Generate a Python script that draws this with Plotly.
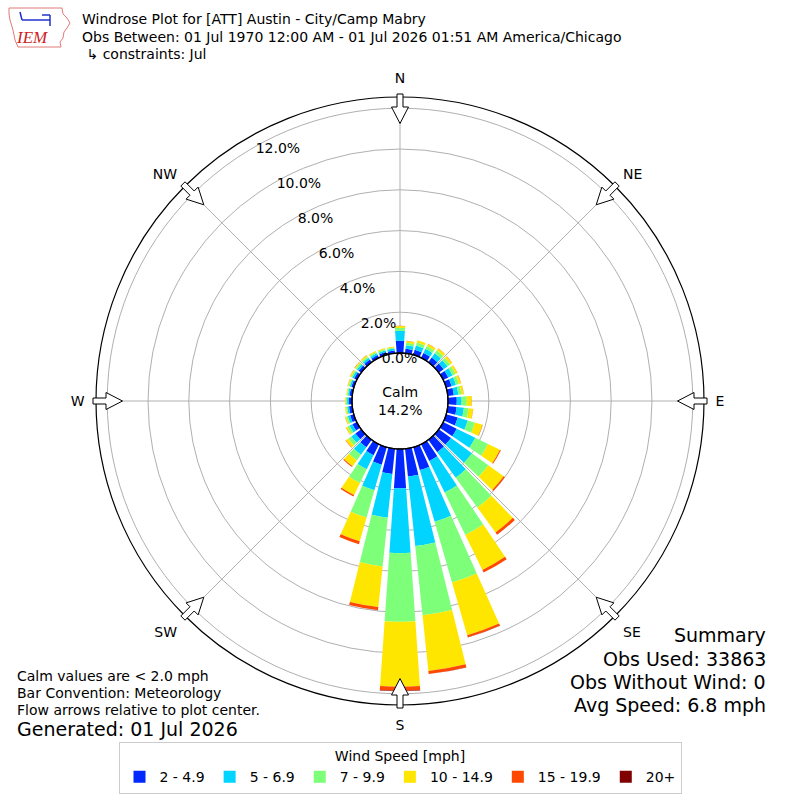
import math
import plotly.graph_objects as go

# %% Data (percent of observations, by direction the wind blows from)
directions = list(range(0, 360, 10))

speed_bins = ["2 - 4.9", "5 - 6.9", "7 - 9.9", "10 - 14.9", "15 - 19.9", "20+"]
bin_colors = ["#0028ff", "#00d4ff", "#7dff7a", "#ffe600", "#ff4800", "#800000"]

pct_2_5 = [0.60, 0.22, 0.26, 0.27, 0.29, 0.29, 0.28, 0.28, 0.30, 0.43, 0.44, 0.59,
           0.74, 0.74, 0.75, 0.92, 1.17, 1.37, 1.93, 1.25, 0.90, 0.60, 0.45, 0.35,
           0.24, 0.19, 0.16, 0.15, 0.13, 0.13, 0.15, 0.16, 0.16, 0.15, 0.14, 0.14]
pct_5_7 = [0.49, 0.18, 0.22, 0.22, 0.25, 0.24, 0.23, 0.22, 0.22, 0.24, 0.36, 0.51,
           1.01, 1.26, 1.55, 1.72, 2.63, 3.43, 3.18, 2.15, 1.30, 0.77, 0.45, 0.25,
           0.16, 0.12, 0.09, 0.09, 0.08, 0.08, 0.10, 0.10, 0.11, 0.10, 0.09, 0.09]
pct_7_10 = [0.14, 0.12, 0.15, 0.15, 0.17, 0.16, 0.16, 0.15, 0.15, 0.25, 0.23, 0.37,
            0.70, 1.00, 1.80, 2.31, 3.10, 3.41, 3.36, 2.40, 1.39, 0.75, 0.35, 0.18,
            0.12, 0.08, 0.06, 0.06, 0.05, 0.06, 0.07, 0.08, 0.08, 0.07, 0.07, 0.06]
pct_10_15 = [0.09, 0.09, 0.11, 0.12, 0.12, 0.12, 0.11, 0.11, 0.11, 0.24, 0.22, 0.38,
             0.65, 0.93, 1.51, 1.91, 2.69, 2.74, 3.18, 2.00, 1.21, 0.66, 0.35, 0.15,
             0.08, 0.06, 0.05, 0.04, 0.04, 0.05, 0.06, 0.06, 0.07, 0.06, 0.05, 0.04]
pct_15_20 = [0.01, 0.01, 0.01, 0.01, 0.01, 0.01, 0.01, 0.01, 0.01, 0.01, 0.01, 0.02,
             0.05, 0.07, 0.14, 0.14, 0.11, 0.15, 0.20, 0.15, 0.15, 0.07, 0.05, 0.02,
             0.01, 0.01, 0.00, 0.00, 0.00, 0.01, 0.01, 0.01, 0.01, 0.00, 0.00, 0.00]
pct_20_up = [0, 0, 0, 0, 0, 0, 0, 0, 0, 0, 0, 0,
             0, 0, 0, 0, 0.01, 0.01, 0.02, 0.01, 0, 0, 0, 0,
             0, 0, 0, 0, 0, 0, 0, 0, 0, 0, 0, 0]

calm_pct = 14.2
ring_ticks = [0, 2, 4, 6, 8, 10, 12]
compass_vals = [0, 45, 90, 135, 180, 225, 270, 315]
compass_text = ["N", "NE", "E", "SE", "S", "SW", "W", "NW"]

# %% Geometry (pixels on the 800x800 page)
W = H = 800
CX, CY = 400, 401
R_OUT = 304
R_HOLE = 48
R_MAX = 12.55
RLABEL_ANGLE = 121
FONT = "DejaVu Sans"


def px(x):
    return x / W


def py(y):
    return 1 - y / H


fig = go.Figure()
for name, vals, color in zip(speed_bins,
                             [pct_2_5, pct_5_7, pct_7_10, pct_10_15, pct_15_20, pct_20_up],
                             bin_colors):
    fig.add_trace(go.Barpolar(
        r=vals, theta=directions, width=8, name=name,
        marker=dict(color=color, line=dict(width=0)),
    ))

# flow arrows on the compass directions, pointing at the center
shapes = []
arrow = [(277.5, 0), (294, 8.5), (294, 3), (307, 3), (307, -3), (294, -3), (294, -8.5)]
for th in compass_vals:
    t = math.radians(th)
    ux, uy = math.sin(t), -math.cos(t)
    vx, vy = math.cos(t), math.sin(t)
    pts = [(CX + u * ux + v * vx, CY + u * uy + v * vy) for u, v in arrow]
    path = "M" + "L".join(f"{px(x):.5f},{py(y):.5f}" for x, y in pts) + "Z"
    shapes.append(dict(type="path", xref="paper", yref="paper", path=path,
                       fillcolor="white", line=dict(color="black", width=1), layer="above"))

# calm circle outline
shapes.append(dict(type="circle", xref="paper", yref="paper",
                   x0=px(CX - R_HOLE), x1=px(CX + R_HOLE), y0=py(CY + R_HOLE), y1=py(CY - R_HOLE),
                   line=dict(color="black", width=1.3), layer="above"))

# rough IEM logo
iowa = [(9, 8), (62, 8), (63, 14), (67, 18), (70, 23), (67, 28), (64, 32), (63, 38), (60, 42),
        (61, 47), (18, 47), (15, 40), (13, 30), (10, 20), (9, 14)]
shapes.append(dict(type="path", xref="paper", yref="paper",
                   path="M" + "L".join(f"{px(x):.5f},{py(y):.5f}" for x, y in iowa) + "Z",
                   line=dict(color="#e07a7a", width=1)))
for x0, y0, x1, y1 in [(22, 20, 50, 20), (42, 15, 50, 15), (50, 15, 50, 26), (20, 12, 22, 20)]:
    shapes.append(dict(type="line", xref="paper", yref="paper",
                       x0=px(x0), y0=py(y0), x1=px(x1), y1=py(y1),
                       line=dict(color="#2233cc", width=1.5)))

annotations = []


def text(s, x, y, size=14, anchor="left", **kw):
    annotations.append(dict(text=s, x=px(x), y=py(y), xref="paper", yref="paper",
                            xanchor=anchor, yanchor="middle", showarrow=False,
                            font=dict(family=kw.get("family", FONT), size=size,
                                      color=kw.get("color", "black"))))


text("<i>IEM</i>", 14, 38, size=17, family="Liberation Serif", color="#cc2222")
text("Windrose Plot for [ATT] Austin - City/Camp Mabry", 80, 19)
text("Obs Between: 01 Jul 1970 12:00 AM - 01 Jul 2026 01:51 AM America/Chicago", 80, 37)
text(" ↳ constraints: Jul", 80, 54)
text("Calm values are &lt; 2.0 mph", 15, 676)
text("Bar Convention: Meteorology", 15, 693)
text("Flow arrows relative to plot center.", 15, 710)
text("Generated: 01 Jul 2026", 15, 729, size=19)
text("Summary", 768, 635, size=19, anchor="right")
text("Obs Used: 33863", 768, 659, size=19, anchor="right")
text("Obs Without Wind: 0", 768, 682, size=19, anchor="right")
text("Avg Speed: 6.8 mph", 768, 705, size=19, anchor="right")
annotations.append(dict(text=f"Calm<br>{calm_pct:.1f}%", x=px(CX), y=py(CY), xref="paper",
                        yref="paper", showarrow=False, font=dict(family=FONT, size=14)))

fig.update_layout(
    width=W, height=H,
    margin=dict(l=0, r=0, t=0, b=0),
    paper_bgcolor="white",
    font=dict(family=FONT, size=14, color="black"),
    polar=dict(
        domain=dict(x=[px(CX - R_OUT), px(CX + R_OUT)], y=[py(CY + R_OUT), py(CY - R_OUT)]),
        hole=R_HOLE / R_OUT,
        bgcolor="white",
        barmode="stack",
        radialaxis=dict(range=[0, R_MAX], tickvals=ring_ticks,
                        ticktext=[f"{v:.1f}%" for v in ring_ticks],
                        angle=RLABEL_ANGLE, tickangle=RLABEL_ANGLE, side="clockwise",
                        showline=False, ticks="", gridcolor="#b0b0b0",
                        gridwidth=1, tickfont=dict(size=14), layer="above traces"),
        angularaxis=dict(rotation=90, direction="clockwise", tickmode="array",
                         tickvals=compass_vals, ticktext=compass_text,
                         showline=True, linecolor="black", linewidth=1.2,
                         gridcolor="#b0b0b0", ticks="outside", ticklen=8,
                         tickcolor="rgba(0,0,0,0)", tickfont=dict(size=14)),
    ),
    legend=dict(orientation="h", x=0.5, xanchor="center", y=py(742), yanchor="top",
                title=dict(text="Wind Speed [mph]", side="top center", font=dict(size=14)),
                bordercolor="#cccccc", borderwidth=1, font=dict(size=14),
                itemwidth=30, traceorder="normal"),
    shapes=shapes,
    annotations=annotations,
)

fig.write_html("out.html", config={"displayModeBar": False},
               post_script="document.body.style.margin='0px';")
